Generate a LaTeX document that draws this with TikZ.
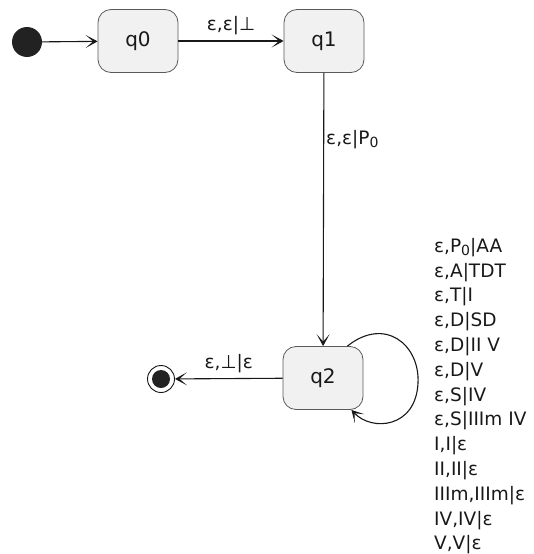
\documentclass[tikz,border=0pt]{standalone}
\usepackage{fontspec}
\setmainfont{DejaVu Sans}
\usetikzlibrary{arrows.meta}
\definecolor{boxfill}{HTML}{F1F1F1}
\definecolor{boxline}{HTML}{5A5A5A}
\definecolor{ink}{HTML}{181818}
\definecolor{dot}{HTML}{222222}
\newcommand{\subz}{\raisebox{-3pt}{\fontsize{14}{14}\selectfont 0}}
\tikzset{
  state/.style={draw=boxline, fill=boxfill, rounded corners=13pt, minimum width=80pt,
    minimum height=63pt, line width=0.8pt, font=\fontsize{20}{20}\selectfont, text=ink},
  edge/.style={draw=ink, line width=1.1pt, -{Stealth[length=12pt,width=13pt,inset=7.5pt]}},
  lbl/.style={font=\fontsize{18.5}{18.5}\selectfont, inner sep=0pt, text=ink},
  initdot/.style={circle, fill=dot, minimum size=30pt, inner sep=0pt},
  finaldot/.style={circle, draw=ink, line width=0.9pt, fill=white, minimum size=27pt, inner sep=0pt,
    path picture={\fill[dot] (path picture bounding box.center) circle (9pt);}},
}
\begin{document}
\begin{tikzpicture}[x=1pt,y=-1pt]
\useasboundingbox (0,0) rectangle (534,554);
\node[initdot] (init) at (27,42) {};
\node[state] (q0) at (138,41) {q0};
\node[state] (q1) at (324,41) {q1};
\node[state] (q2) at (323,378) {q2};
\node[finaldot] (fin) at (161,379) {};
\draw[edge] (init) -- (q0);
\draw[edge] (q0) -- node[lbl, anchor=base, yshift=11pt] {ε,ε|⊥} (q1);
\draw[edge] (q1) -- node[lbl, anchor=base west, pos=0.263, xshift=2pt] {ε,ε|P\subz} (q2);
\draw[edge] (q2) -- node[lbl, anchor=base, yshift=10pt] {ε,⊥|ε} (fin);
\draw[edge] ([xshift=-16pt]q2.north east) .. controls (385,316) and (420,345) .. (418,383)
  .. controls (416,428) and (372,432) .. ([xshift=-12pt]q2.south east);
\node[lbl, anchor=north west, align=left, font=\fontsize{18.5}{24.8}\selectfont] (loopl) at (434,238)
  {ε,P\subz|AA\\ε,A|TDT\\ε,T|I\\ε,D|SD\\ε,D|II V\\ε,D|V\\ε,S|IV\\ε,S|IIIm IV\\I,I|ε\\II,II|ε\\IIIm,IIIm|ε\\IV,IV|ε\\V,V|ε};
\end{tikzpicture}
\end{document}
